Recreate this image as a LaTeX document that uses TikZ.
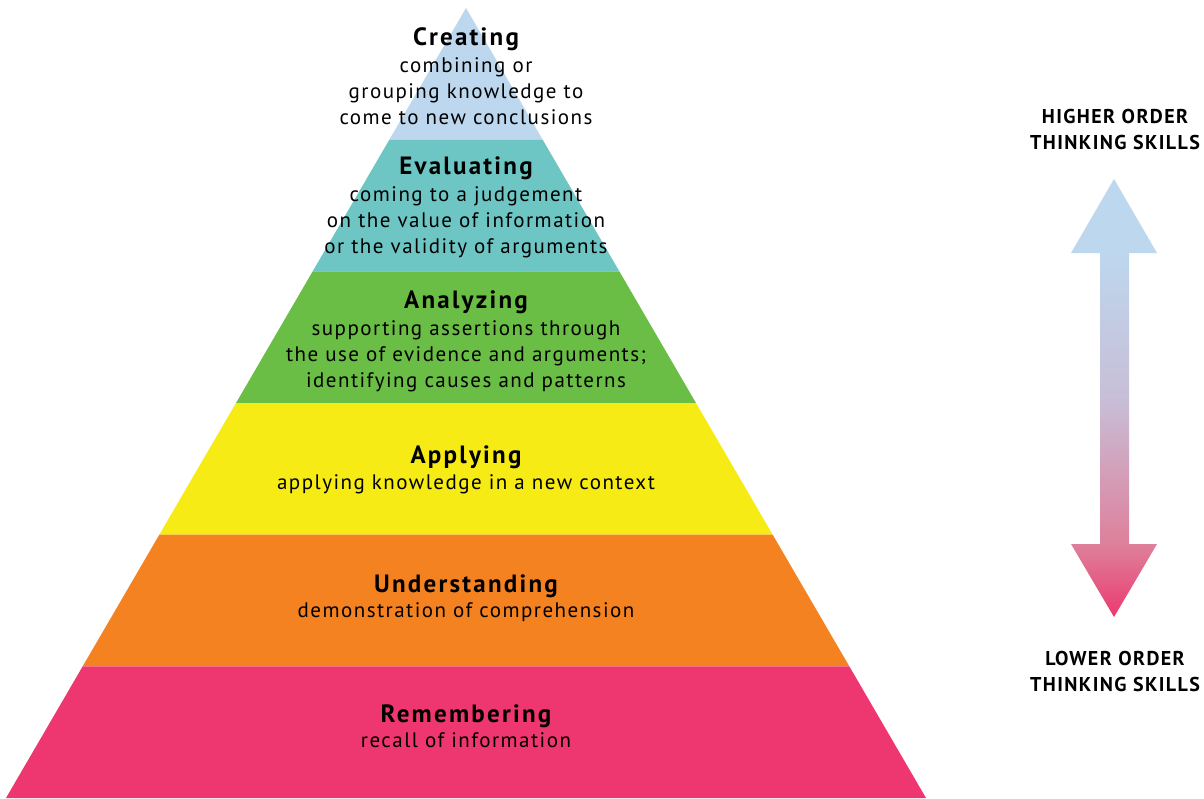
\documentclass[tikz,border=0pt]{standalone}
\usepackage{fontspec}
\setmainfont{PT Sans}
\newfontfamily\bodyfont{PT Sans}[LetterSpace=7]
\newfontfamily\titlefont{PT Sans}[LetterSpace=9]
\newfontfamily\sidefont{PT Sans}[LetterSpace=7]
\usetikzlibrary{calc}
\definecolor{cCreate}{RGB}{189,215,238}
\definecolor{cEval}{RGB}{110,198,196}
\definecolor{cAnal}{RGB}{107,190,69}
\definecolor{cApply}{RGB}{246,235,20}
\definecolor{cUnder}{RGB}{245,130,32}
\definecolor{cRemem}{RGB}{238,55,112}
\definecolor{shBl}{RGB}{189,215,238}
\definecolor{shLav}{RGB}{200,190,215}
\definecolor{shPkB}{RGB}{222,128,155}
\definecolor{shPkA}{RGB}{236,58,110}
\pgfdeclareverticalshading{thinkshade}{100bp}{color(0bp)=(shPkA); color(25bp)=(shPkA); color(33.3bp)=(shPkB); color(49.8bp)=(shLav); color(66.6bp)=(shBl); color(100bp)=(shBl)}
\tikzset{
  layertitle/.style={anchor=base, inner sep=0pt, font={\titlefont\bfseries\fontsize{25}{26}\selectfont}},
  layertext/.style={anchor=base, inner sep=0pt, align=center, font={\bodyfont\fontsize{21}{26}\selectfont}},
  sidetext/.style={anchor=base, inner sep=0pt, align=center, font={\sidefont\bfseries\fontsize{20}{26}\selectfont}}
}
\begin{document}
\begin{tikzpicture}[x=1pt,y=-1pt]
\useasboundingbox (0,0) rectangle (1204,798);
\coordinate (A) at (466,8);
\coordinate (BL) at (6,798);
\coordinate (BR) at (926,798);
\foreach \i in {1,...,6}{
  \pgfmathsetmacro{\t}{\i/6}
  \coordinate (L\i) at ($(A)!\t!(BL)$);
  \coordinate (R\i) at ($(A)!\t!(BR)$);
}
\fill[cCreate] (A) -- (R1) -- (L1) -- cycle;
\fill[cEval] (L1) -- (R1) -- (R2) -- (L2) -- cycle;
\fill[cAnal] (L2) -- (R2) -- (R3) -- (L3) -- cycle;
\fill[cApply] (L3) -- (R3) -- (R4) -- (L4) -- cycle;
\fill[cUnder] (L4) -- (R4) -- (R5) -- (L5) -- cycle;
\fill[cRemem] (L5) -- (R5) -- (R6) -- (L6) -- cycle;

\node[layertitle] (t1) at (466,45) {Creating};
\node[layertext] (d1) at (466,124) {combining or\\grouping knowledge to\\come to new conclusions};
\node[layertitle] (t2) at (466,174) {Evaluating};
\node[layertext] (d2) at (466,253) {coming to a judgement\\on the value of information\\or the validity of arguments};
\node[layertitle] (t3) at (466,308) {Analyzing};
\node[layertext] (d3) at (466,387) {supporting assertions through\\the use of evidence and arguments;\\identifying causes and patterns};
\node[layertitle] (t4) at (466,463) {Applying};
\node[layertext] (d4) at (466,489) {applying knowledge in a new context};
\node[layertitle] (t5) at (466,592) {Understanding};
\node[layertext] (d5) at (466,617) {demonstration of comprehension};
\node[layertitle] (t6) at (466,722) {Remembering};
\node[layertext] (d6) at (466,747) {recall of information};

\node[sidetext] (hi) at (1115,149) {HIGHER ORDER\\THINKING SKILLS};
\node[sidetext] (lo) at (1115,691) {LOWER ORDER\\THINKING SKILLS};

\coordinate (up) at (1114,179);
\coordinate (dn) at (1114,617);
\shade[shading=thinkshade] (up) -- (1157,253) -- (1129,253) -- (1129,544) -- (1157,544) -- (dn) -- (1071,544) -- (1100,544) -- (1100,253) -- (1071,253) -- cycle;
\end{tikzpicture}
\end{document}
